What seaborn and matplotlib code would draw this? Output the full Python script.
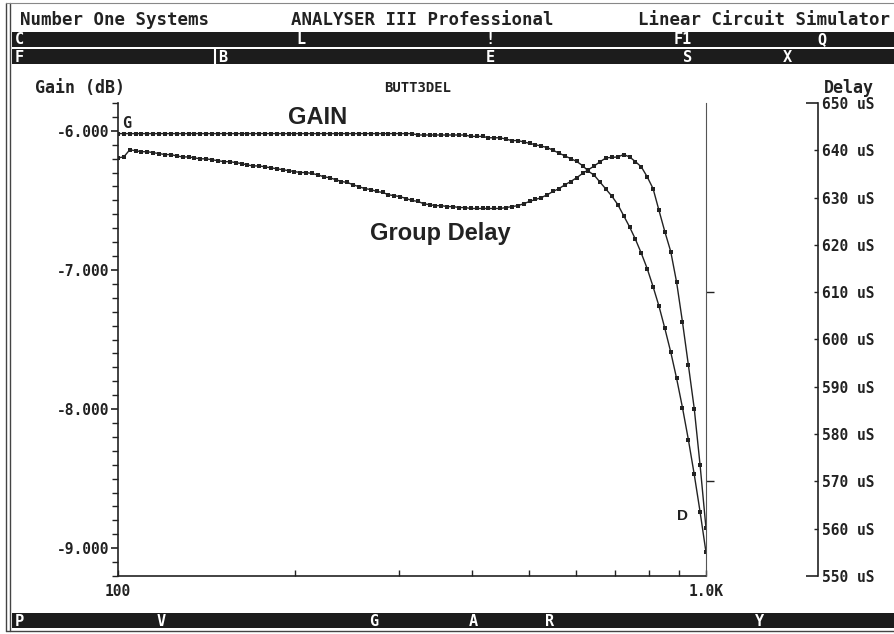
import matplotlib
matplotlib.use("Agg")
import matplotlib.pyplot as plt
from matplotlib.patches import Rectangle
from matplotlib.lines import Line2D
from matplotlib.ticker import FixedLocator, FuncFormatter, NullFormatter, MultipleLocator
import pandas as pd
import seaborn as sns

# ---------------------------------------------------------------- data
freq_hz = [
    100.0, 102.3, 104.7, 107.2, 109.6, 112.2, 114.8, 117.5, 120.2, 123.0,
    125.9, 128.8, 131.8, 134.9, 138.0, 141.3, 144.5, 147.9, 151.4, 154.9,
    158.5, 162.2, 166.0, 169.8, 173.8, 177.8, 182.0, 186.2, 190.5, 195.0,
    199.5, 204.2, 208.9, 213.8, 218.8, 223.9, 229.1, 234.4, 239.9, 245.5,
    251.2, 257.0, 263.0, 269.2, 275.4, 281.8, 288.4, 295.1, 302.0, 309.0,
    316.2, 323.6, 331.1, 338.8, 346.7, 354.8, 363.1, 371.5, 380.2, 389.0,
    398.1, 407.4, 416.9, 426.6, 436.5, 446.7, 457.1, 467.7, 478.6, 489.8,
    501.2, 512.9, 524.8, 537.0, 549.5, 562.3, 575.4, 588.8, 602.6, 616.6,
    631.0, 645.7, 660.7, 676.1, 691.8, 707.9, 724.4, 741.3, 758.6, 776.2,
    794.3, 812.8, 831.8, 851.1, 871.0, 891.3, 912.0, 933.3, 955.0, 977.2,
    1000.0,
]

gain_db = [
    -6.02, -6.02, -6.02, -6.02, -6.02, -6.02, -6.02, -6.02, -6.02, -6.02,
    -6.02, -6.02, -6.02, -6.02, -6.02, -6.02, -6.02, -6.02, -6.02, -6.02,
    -6.02, -6.02, -6.02, -6.02, -6.02, -6.02, -6.02, -6.02, -6.02, -6.02,
    -6.02, -6.02, -6.02, -6.02, -6.02, -6.02, -6.02, -6.02, -6.02, -6.02,
    -6.02, -6.02, -6.02, -6.02, -6.02, -6.02, -6.02, -6.02, -6.02, -6.02,
    -6.02, -6.03, -6.03, -6.03, -6.03, -6.03, -6.03, -6.03, -6.03, -6.03,
    -6.04, -6.04, -6.04, -6.05, -6.05, -6.05, -6.06, -6.07, -6.07, -6.08,
    -6.09, -6.10, -6.11, -6.12, -6.14, -6.16, -6.18, -6.20, -6.22, -6.25,
    -6.29, -6.32, -6.37, -6.42, -6.47, -6.53, -6.61, -6.69, -6.78, -6.88,
    -6.99, -7.12, -7.26, -7.42, -7.59, -7.78, -7.99, -8.22, -8.47, -8.74,
    -9.03,
]

delay_us = [
    638.4, 638.6, 640.1, 639.9, 639.7, 639.7, 639.5, 639.3, 639.1, 639.1,
    638.8, 638.6, 638.6, 638.4, 638.2, 638.2, 638.0, 637.8, 637.6, 637.6,
    637.4, 637.2, 636.9, 636.7, 636.7, 636.5, 636.3, 636.1, 635.9, 635.7,
    635.5, 635.3, 635.3, 635.1, 634.8, 634.4, 634.2, 633.8, 633.4, 633.2,
    632.7, 632.3, 631.9, 631.7, 631.3, 631.1, 630.6, 630.4, 630.2, 629.8,
    629.4, 629.2, 628.7, 628.5, 628.3, 628.3, 628.1, 628.1, 627.9, 627.9,
    627.7, 627.7, 627.7, 627.7, 627.7, 627.7, 627.9, 628.1, 628.3, 628.7,
    629.2, 629.6, 630.0, 630.6, 631.3, 631.9, 632.7, 633.4, 634.2, 635.1,
    635.9, 636.7, 637.6, 638.4, 638.5, 638.6, 639.1, 638.6, 637.6, 636.5,
    634.4, 631.9, 627.3, 622.8, 618.6, 612.1, 603.7, 594.6, 585.4, 573.4,
    560.1,
]

circuit_name = "BUTT3DEL"
gain_ticks = [-9.0, -8.0, -7.0, -6.0]
delay_major = [550, 650]
delay_minor = [560, 570, 580, 590, 600, 610, 620, 630, 640]
cursor_marks = [570, 610]
freq_minor = [200, 300, 400, 500, 600, 700, 800, 900]

header = ["Number One Systems", "ANALYSER III Professional", "Linear Circuit Simulator"]
menu_row1 = [("C", 15), ("L", 296), ("!", 485), ("F1", 674), ("Q", 817)]
menu_row2 = [("F", 15), ("B", 218), ("E", 486), ("S", 683), ("X", 783)]
menu_row3 = [("P", 15), ("V", 157), ("G", 369), ("A", 469), ("R", 545), ("Y", 755)]

# ---------------------------------------------------------------- style
sns.set_style("white")
plt.rcParams["font.family"] = ["DejaVu Sans Mono", "DejaVu Sans"]
plt.rcParams["font.weight"] = "bold"

INK = "#222222"
W, H = 894, 634


def fx(px):
    return px / W


def fy(py):
    return 1 - py / H


fig = plt.figure(figsize=(W / 100, H / 100), dpi=100)
fig.patch.set_facecolor("white")

df = pd.DataFrame({"freq": freq_hz, "gain": gain_db, "delay": delay_us})

# main gain axes
ax = fig.add_axes([fx(118), fy(576), fx(706) - fx(118), fy(103) - fy(576)])
ax.set_xscale("log")
line_kw = dict(color=INK, lw=1.0, marker="s", markersize=3.4,
               markeredgewidth=0, markerfacecolor=INK)
sns.lineplot(data=df, x="freq", y="gain", ax=ax, **line_kw)
ax.set_xlim(100, 1000)
ax.set_ylim(-9.2, -5.8)
ax.set_xlabel("")
ax.set_ylabel("")
for s in ("top", "right"):
    ax.spines[s].set_visible(False)
for s in ("left", "bottom"):
    ax.spines[s].set_color(INK)
    ax.spines[s].set_linewidth(1.2)

ax.set_yticks(gain_ticks)
ax.yaxis.set_major_formatter(FuncFormatter(lambda v, _: f"{v:.3f}"))
ax.yaxis.set_minor_locator(MultipleLocator(0.1))
ax.tick_params(axis="y", which="major", left=True, direction="out", length=5,
               width=1.2, pad=1, labelsize=10.5, colors=INK)
ax.tick_params(axis="y", which="minor", left=True, direction="out", length=4,
               width=1.0, colors=INK)

ax.set_xticks([100, 1000])
ax.set_xticklabels(["100", "1.0K"])
ax.xaxis.set_minor_locator(FixedLocator(freq_minor))
ax.xaxis.set_minor_formatter(NullFormatter())
ax.tick_params(axis="x", which="both", bottom=True, direction="in", length=4,
               width=1.0, pad=6, labelsize=10.5, colors=INK)

# group delay on its own scale, axis drawn out to the right
ax2 = ax.twinx()
sns.lineplot(data=df, x="freq", y="delay", ax=ax2, **line_kw)
ax2.set_ylim(550, 650)
ax2.set_xlabel("")
ax2.set_ylabel("")
for s in ("top", "left", "bottom"):
    ax2.spines[s].set_visible(False)
ax2.spines["right"].set_position(("axes", (818 - 118) / (706 - 118)))
ax2.spines["right"].set_color(INK)
ax2.spines["right"].set_linewidth(1.2)
ax2.set_yticks(delay_major)
ax2.set_yticks(delay_minor, minor=True)
fmt_us = FuncFormatter(lambda v, _: f"{v:.0f} uS")
ax2.yaxis.set_major_formatter(fmt_us)
ax2.yaxis.set_minor_formatter(fmt_us)
ax2.tick_params(axis="y", which="major", right=True, left=False, direction="in",
                length=9, width=1.2, pad=3, labelsize=10.5, colors=INK)
ax2.tick_params(axis="y", which="minor", right=True, left=False, direction="in",
                length=3, width=1.0, pad=3, labelsize=10.5, colors=INK)

# plot frame on the right with the two cursor marks
ax3 = ax.twinx()
ax3.set_ylim(550, 650)
for s in ("top", "left", "bottom"):
    ax3.spines[s].set_visible(False)
ax3.spines["right"].set_color("#555555")
ax3.spines["right"].set_linewidth(0.8)
ax3.set_yticks(cursor_marks)
ax3.tick_params(axis="y", which="major", right=True, direction="out", length=6,
                width=1.0, labelright=False, colors=INK)

# curve annotations
fig.text(fx(318), fy(117), "GAIN", ha="center", va="center", fontsize=17,
         family=["Liberation Sans"], weight="bold", color=INK)
fig.text(fx(440), fy(234), "Group Delay", ha="center", va="center", fontsize=17,
         family=["Liberation Sans"], weight="bold", color=INK)
fig.text(fx(127), fy(123), "G", ha="center", va="center", fontsize=11, color=INK)
fig.text(fx(682), fy(516), "D", ha="center", va="center", fontsize=11,
         family=["Liberation Sans"], weight="bold", color=INK)

# axis captions
fig.text(fx(80), fy(88), "Gain (dB)", ha="center", va="center", fontsize=12, color=INK)
fig.text(fx(418), fy(88), circuit_name, ha="center", va="center", fontsize=10, color=INK)
fig.text(fx(874), fy(88), "Delay", ha="right", va="center", fontsize=12, color=INK)

# screen header and menu bars
fig.text(fx(20), fy(20), header[0], ha="left", va="center", fontsize=12.5, color=INK)
fig.text(fx(422), fy(20), header[1], ha="center", va="center", fontsize=12.5, color=INK)
fig.text(fx(890), fy(20), header[2], ha="right", va="center", fontsize=12.5, color=INK)

BAR = "#1c1c1c"
for top, labels in ((32, menu_row1), (49, menu_row2), (613, menu_row3)):
    fig.patches.append(Rectangle((fx(12), fy(top + 15)), 1 - fx(12), 15 / H,
                                 transform=fig.transFigure, facecolor=BAR,
                                 edgecolor="none"))
    for txt, px in labels:
        fig.text(fx(px), fy(top + 8), txt, ha="left", va="center", fontsize=11,
                 color="white")

fig.lines.append(Line2D([fx(215), fx(215)], [fy(49), fy(64)], transform=fig.transFigure,
                        color="white", lw=1.5))

# screen border
for px in (6, 10):
    fig.lines.append(Line2D([fx(px), fx(px)], [fy(3), fy(631)], transform=fig.transFigure,
                            color="#444444", lw=1.0))
fig.lines.append(Line2D([fx(6), 1], [fy(631), fy(631)], transform=fig.transFigure,
                        color="#444444", lw=1.0))
fig.lines.append(Line2D([fx(6), 1], [fy(3), fy(3)], transform=fig.transFigure,
                        color="#888888", lw=0.8))

fig.savefig("out.png", dpi=100, facecolor="white")
